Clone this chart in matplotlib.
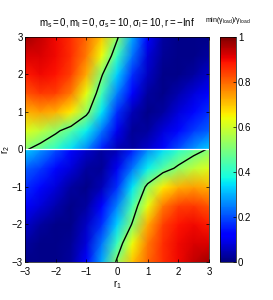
import numpy as np
import matplotlib
matplotlib.use("Agg")
import matplotlib.pyplot as plt

plt.rcParams['font.family'] = ['Liberation Sans', 'DejaVu Sans']
plt.rcParams['mathtext.fontset'] = 'custom'
plt.rcParams['mathtext.rm'] = 'Liberation Sans'
plt.rcParams['mathtext.it'] = 'Liberation Sans'
plt.rcParams['mathtext.sf'] = 'Liberation Sans'

# grid nodes
r1 = [-3.0, -2.5, -2.0, -1.5, -1.0, -0.5, 0.0, 0.5, 1.0, 1.5, 2.0, 2.5, 3.0]
r2_upper = [0.0, 0.5, 1.0, 1.5, 2.0, 2.5, 3.0]
r2_lower = [-3.0, -2.5, -2.0, -1.5, -1.0, -0.5, 0.0]

# min(gamma_load)/gamma_load, upper half (rows r2 = 0 .. 3)
z_upper = [
    [0.51, 0.46, 0.40, 0.34, 0.26, 0.15, 0.05, 0.03, 0.07, 0.13, 0.20, 0.27, 0.33],
    [0.62, 0.58, 0.52, 0.45, 0.36, 0.24, 0.10, 0.02, 0.03, 0.08, 0.13, 0.18, 0.22],
    [0.72, 0.74, 0.72, 0.66, 0.53, 0.35, 0.17, 0.05, 0.01, 0.03, 0.08, 0.13, 0.17],
    [0.82, 0.85, 0.84, 0.78, 0.63, 0.43, 0.25, 0.11, 0.03, 0.01, 0.04, 0.08, 0.12],
    [0.88, 0.90, 0.89, 0.84, 0.73, 0.51, 0.33, 0.17, 0.06, 0.01, 0.01, 0.03, 0.07],
    [0.92, 0.92, 0.90, 0.86, 0.78, 0.64, 0.42, 0.24, 0.08, 0.02, 0.01, 0.01, 0.03],
    [0.97, 0.94, 0.90, 0.86, 0.80, 0.70, 0.52, 0.29, 0.11, 0.03, 0.01, 0.01, 0.01],
]

# lower half (rows r2 = -3 .. 0)
z_lower = [
    [0.01, 0.01, 0.01, 0.03, 0.11, 0.29, 0.52, 0.70, 0.80, 0.86, 0.90, 0.94, 0.97],
    [0.03, 0.01, 0.01, 0.02, 0.08, 0.24, 0.42, 0.64, 0.78, 0.86, 0.90, 0.92, 0.92],
    [0.07, 0.03, 0.01, 0.01, 0.06, 0.17, 0.33, 0.51, 0.73, 0.84, 0.89, 0.90, 0.88],
    [0.12, 0.08, 0.04, 0.01, 0.03, 0.11, 0.25, 0.43, 0.63, 0.78, 0.84, 0.85, 0.82],
    [0.17, 0.13, 0.08, 0.03, 0.01, 0.05, 0.17, 0.35, 0.53, 0.66, 0.72, 0.74, 0.72],
    [0.22, 0.18, 0.13, 0.08, 0.03, 0.02, 0.10, 0.24, 0.36, 0.45, 0.52, 0.58, 0.62],
    [0.33, 0.27, 0.20, 0.13, 0.07, 0.03, 0.05, 0.15, 0.26, 0.34, 0.40, 0.46, 0.51],
]

ticks = [-3, -2, -1, 0, 1, 2, 3]
tick_labels = ['\u22123', '\u22122', '\u22121', '0', '1', '2', '3']
cbar_ticks = [0, 0.2, 0.4, 0.6, 0.8, 1]
cbar_labels = ['0', '0.2', '0.4', '0.6', '0.8', '1']

fig = plt.figure(figsize=(2.73, 3.0), dpi=100)
ax = fig.add_axes([0.0916, 0.1267, 0.674, 0.75])
cax = fig.add_axes([0.806, 0.1267, 0.0586, 0.75])

for r2, z in ((r2_upper, z_upper), (r2_lower, z_lower)):
    X, Y = np.meshgrid(r1, r2)
    Z = np.array(z)
    mesh = ax.pcolormesh(X, Y, Z, cmap='jet', vmin=0, vmax=1, shading='gouraud')
    ax.contour(X, Y, Z, levels=[0.5], colors='k', linewidths=1.0)

ax.axhline(0, color='white', lw=0.9)
ax.set_xlim(-3, 3)
ax.set_ylim(-3, 3)
ax.set_xticks(ticks)
ax.set_xticklabels(tick_labels)
ax.set_yticks(ticks)
ax.set_yticklabels(tick_labels)
ax.tick_params(direction='in', length=2.5, width=0.5, labelsize=7,
               top=True, right=True)
ax.tick_params(axis='x', pad=3.5)
ax.tick_params(axis='y', pad=1.5)
for s in ax.spines.values():
    s.set_linewidth(0.5)
ax.set_xlabel(r'$\mathregular{r_1}$', fontsize=7, labelpad=1)
ax.set_ylabel(r'$\mathregular{r_2}$', fontsize=7, labelpad=0)
ax.set_title(r'$\mathregular{m_s = 0, m_l = 0, \sigma_s = 10, \sigma_l = 10, r = -Inf}$',
             fontsize=7, pad=8)

cb = fig.colorbar(mesh, cax=cax, ticks=cbar_ticks)
cb.ax.set_yticklabels(cbar_labels)
cb.ax.tick_params(direction='in', length=2, width=0.5, labelsize=7, pad=1.5)
cb.outline.set_linewidth(0.5)
fig.text(0.835, 0.915, r'$\mathregular{min(\gamma_{load})/\gamma_{load}}$',
         fontsize=5, ha='center', va='bottom')

fig.savefig('out.png', dpi=100)
